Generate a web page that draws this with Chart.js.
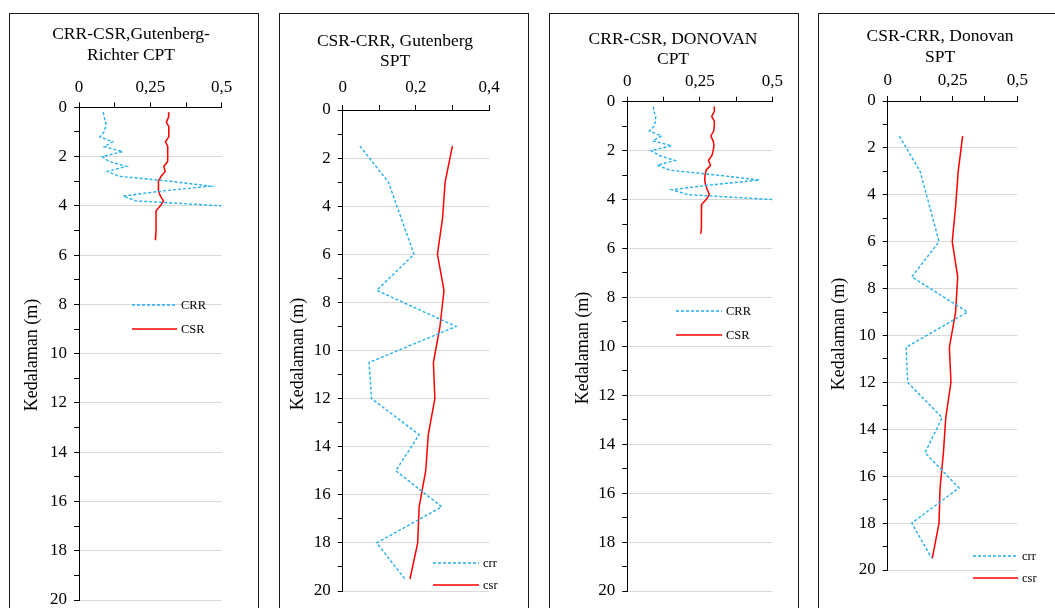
<!DOCTYPE html>
<html>
<head>
<meta charset="utf-8">
<script src="https://cdn.jsdelivr.net/npm/chart.js@4.4.1/dist/chart.umd.min.js"></script>
<style>
  body { margin: 0; background: #fff; width: 1055px; height: 608px; overflow: hidden; position: relative; }
  .box { position: absolute; top: 13px; height: 640px; width: 250px; border: 1px solid #1a1a1a; box-sizing: border-box; }
  canvas { position: absolute; top: 14px; }
</style>
</head>
<body>
<div class="box" style="left:9px"></div>
<div class="box" style="left:279px"></div>
<div class="box" style="left:549px"></div>
<div class="box" style="left:818px"></div>
<canvas id="c1" width="247" height="606" style="left:10px"></canvas>
<canvas id="c2" width="247" height="606" style="left:280px"></canvas>
<canvas id="c3" width="247" height="606" style="left:550px"></canvas>
<canvas id="c4" width="236" height="606" style="left:819px"></canvas>
<script>
/* DATA */
const cptDepthCrr = [0.2, 0.4, 0.6, 0.8, 1.0, 1.2, 1.4, 1.6, 1.8, 2.0, 2.2, 2.4, 2.6, 2.8, 3.0, 3.2, 3.4, 3.6, 3.8, 4.0];
const cptDepthCsr = [0.2, 0.4, 0.6, 0.8, 1.0, 1.2, 1.4, 1.6, 1.8, 2.0, 2.2, 2.4, 2.6, 2.8, 3.0, 3.2, 3.4, 3.6, 3.8, 4.0, 4.2, 4.4, 4.6, 4.8, 5.0, 5.2, 5.4];
const sptDepth = [1.5, 3, 4.5, 6, 7.5, 9, 10.5, 12, 13.5, 15, 16.5, 18, 19.5];

// Gutenberg-Richter CPT
const grCptCrr = [0.085, 0.088, 0.094, 0.093, 0.088, 0.073, 0.118, 0.088, 0.153, 0.082, 0.105, 0.167, 0.100, 0.140, 0.320, 0.459, 0.290, 0.155, 0.200, 0.500];
const grCptCsr = [0.315, 0.314, 0.306, 0.315, 0.315, 0.314, 0.303, 0.311, 0.311, 0.311, 0.310, 0.297, 0.302, 0.288, 0.278, 0.278, 0.279, 0.285, 0.296, 0.285, 0.270, 0.270, 0.270, 0.270, 0.270, 0.269, 0.268];
// Gutenberg SPT
const grSptCrr = [0.047, 0.125, 0.160, 0.195, 0.093, 0.310, 0.072, 0.079, 0.209, 0.145, 0.271, 0.093, 0.170];
const grSptCsr = [0.300, 0.280, 0.273, 0.259, 0.277, 0.266, 0.248, 0.252, 0.234, 0.227, 0.209, 0.205, 0.184];
// Donovan CPT
const dnCptCrr = [0.090, 0.092, 0.098, 0.097, 0.092, 0.076, 0.118, 0.088, 0.153, 0.082, 0.110, 0.164, 0.103, 0.147, 0.310, 0.455, 0.290, 0.153, 0.210, 0.500];
const dnCptCsr = [0.300, 0.300, 0.291, 0.300, 0.300, 0.298, 0.288, 0.296, 0.299, 0.296, 0.292, 0.280, 0.287, 0.272, 0.268, 0.267, 0.270, 0.276, 0.283, 0.272, 0.256, 0.256, 0.256, 0.256, 0.255, 0.255, 0.253];
// Donovan SPT
const dnSptCrr = [0.045, 0.125, 0.162, 0.198, 0.093, 0.308, 0.071, 0.077, 0.210, 0.144, 0.275, 0.093, 0.170];
const dnSptCsr = [0.289, 0.272, 0.262, 0.249, 0.270, 0.262, 0.238, 0.244, 0.224, 0.215, 0.202, 0.198, 0.172];

const xLabels05 = ["0", "", "0,25", "", "0,5"];
const xLabels04 = ["0", "", "0,2", "", "0,4"];
const yLabels = ["0", "", "2", "", "4", "", "6", "", "8", "", "10", "", "12", "", "14", "", "16", "", "18", "", "20"];

const CRR_COLOR = "#22b0ee";
const CSR_COLOR = "#ff0000";
const FONT = '"Liberation Serif", "Times New Roman", serif';

/* TEXT + LEGEND */
const decor = {
  id: "decor",
  afterDraw(chart, args, o) {
    const c = chart.ctx, ox = chart.canvas.offsetLeft, oy = chart.canvas.offsetTop;
    c.save();
    c.fillStyle = "#000";
    c.textAlign = "center";
    c.textBaseline = "middle";
    c.font = "17.5px " + FONT;
    o.title.forEach((t, i) => c.fillText(t, o.tx - ox, o.ty[i] - oy));

    c.save();
    c.translate(o.lx - ox, o.ly - oy);
    c.rotate(-Math.PI / 2);
    c.font = "18px " + FONT;
    c.fillText("Kedalaman (m)", 0, 0);
    c.restore();

    c.font = "12.5px " + FONT;
    c.textAlign = "left";
    chart.data.datasets.forEach((ds, i) => {
      const y = o.legY[i] - oy, x = o.legX - ox;
      c.strokeStyle = ds.borderColor;
      c.lineWidth = ds.borderWidth;
      c.setLineDash(ds.borderDash || []);
      c.beginPath(); c.moveTo(x, y); c.lineTo(x + o.legW, y); c.stroke();
      c.setLineDash([]);
      c.fillText(ds.label, x + o.legW + 4, y + 1);
    });
    c.restore();
  }
};

function pts(xs, ys) { return xs.map((v, i) => ({ x: v, y: ys[i] })); }

function makePanel(id, p) {
  const cv = document.getElementById(id);
  const ox = cv.offsetLeft, oy = cv.offsetTop;
  const YW = 40, XH = 30;
  new Chart(cv, {
    type: "scatter",
    data: {
      datasets: [
        { label: p.names[0], data: pts(p.crr, p.crrDepth), showLine: true, borderColor: CRR_COLOR,
          borderWidth: 1.4, borderDash: [3, 2], pointRadius: 0, fill: false },
        { label: p.names[1], data: pts(p.csr, p.csrDepth), showLine: true, borderColor: CSR_COLOR,
          borderWidth: 1.5, pointRadius: 0, fill: false }
      ]
    },
    options: {
      responsive: false, animation: false, events: [],
      layout: { padding: {
        left: p.area[0] - ox - YW, top: p.area[1] - oy - XH,
        right: ox + cv.width - p.area[2], bottom: oy + cv.height - p.area[3] } },
      plugins: {
        legend: { display: false }, tooltip: { enabled: false },
        decor: { title: p.title, tx: p.tx, ty: p.ty, lx: p.lx, ly: p.ly, legX: p.legX, legW: p.legW, legY: p.legY }
      },
      scales: {
        x: {
          type: "linear", position: "top", min: 0, max: p.xMax,
          afterFit: s => { s.height = XH; },
          ticks: { stepSize: p.xStep, autoSkip: false, maxRotation: 0, padding: p.xPad, color: "#000",
                   font: { family: FONT, size: 17 }, callback: (v, i) => p.xLabels[i] },
          grid: { drawOnChartArea: false, tickLength: 5, tickColor: "#000" },
          border: { color: "#000", width: 1 }
        },
        y: {
          type: "linear", reverse: true, min: 0, max: 20,
          afterFit: s => { s.width = YW; },
          ticks: { stepSize: 1, autoSkip: false, padding: 7, color: "#000",
                   font: { family: FONT, size: 17 }, callback: v => yLabels[Math.round(v)] },
          grid: { color: c => (c.tick && Math.round(c.tick.value) % 2 === 0) ? "#d9d9d9" : "rgba(0,0,0,0)",
                  tickLength: 5, tickColor: "#000" },
          border: { color: "#000", width: 1 }
        }
      }
    },
    plugins: [decor]
  });
}

makePanel("c1", {
  names: ["CRR", "CSR"], crr: grCptCrr, crrDepth: cptDepthCrr, csr: grCptCsr, csrDepth: cptDepthCsr,
  area: [79, 107.3, 221.7, 600], xMax: 0.5, xStep: 0.125, xLabels: xLabels05, xPad: 5,
  title: ["CRR-CSR,Gutenberg-", "Richter CPT"], tx: 131, ty: [34, 55], lx: 32, ly: 355,
  legX: 132, legW: 45, legY: [305, 329]
});
makePanel("c2", {
  names: ["crr", "csr"], crr: grSptCrr, crrDepth: sptDepth, csr: grSptCsr, csrDepth: sptDepth,
  area: [342.7, 110, 489, 591], xMax: 0.4, xStep: 0.1, xLabels: xLabels04, xPad: 7,
  title: ["CSR-CRR, Gutenberg", "SPT"], tx: 395, ty: [41, 61], lx: 298, ly: 354,
  legX: 433, legW: 46, legY: [563, 585]
});
makePanel("c3", {
  names: ["CRR", "CSR"], crr: dnCptCrr, crrDepth: cptDepthCrr, csr: dnCptCsr, csrDepth: cptDepthCsr,
  area: [627.3, 101.7, 772.3, 591], xMax: 0.5, xStep: 0.125, xLabels: xLabels05, xPad: 5,
  title: ["CRR-CSR, DONOVAN", "CPT"], tx: 673, ty: [39, 59], lx: 583, ly: 348,
  legX: 676, legW: 46, legY: [311, 335]
});
makePanel("c4", {
  names: ["crr", "csr"], crr: dnSptCrr, crrDepth: sptDepth, csr: dnSptCsr, csrDepth: sptDepth,
  area: [887.7, 101, 1017.3, 570], xMax: 0.5, xStep: 0.125, xLabels: xLabels05, xPad: 5,
  title: ["CSR-CRR, Donovan", "SPT"], tx: 940, ty: [36, 57], lx: 839, ly: 334,
  legX: 973, legW: 45, legY: [556, 578]
});
</script>
</body>
</html>
